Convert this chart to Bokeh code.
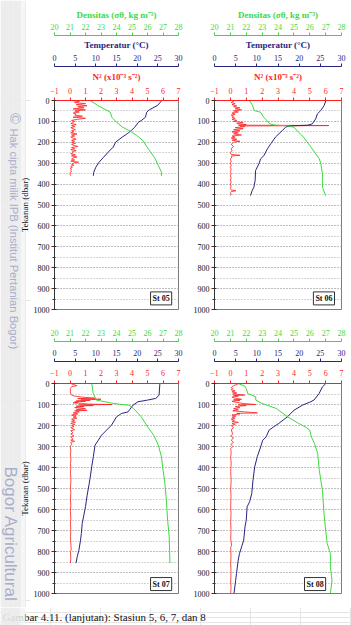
import math

from bokeh.embed import file_html
from bokeh.layouts import column, row
from bokeh.models import (BoxAnnotation, Label, LinearAxis, Range1d,
                          SingleIntervalTicker, Title)
from bokeh.plotting import figure
from bokeh.resources import INLINE

# ---------------------------------------------------------------------------
# CTD profiles, as (pressure dbar, value) pairs
# temperature in degC, sigma-theta in kg m-3, N^2 in 1e-3 s-2
# ---------------------------------------------------------------------------
ST05_TEMP = [(0, 26.0), (24, 24.9), (45, 22.9), (56, 22.3), (80, 22.0), (96, 21.0),
             (104, 20.3), (128, 19.4), (143, 18.6), (159, 17.6), (175, 16.4),
             (199, 14.8), (223, 14.2), (247, 13.0), (271, 11.9), (295, 10.8),
             (319, 10.0), (343, 9.5), (360, 9.4)]
ST05_DENS = [(0, 22.3), (24, 22.8), (56, 23.6), (80, 23.7), (104, 24.0), (128, 24.4),
             (143, 24.8), (167, 25.3), (191, 25.7), (215, 25.9), (247, 26.2),
             (279, 26.5), (311, 26.7), (343, 26.9), (360, 26.9)]
ST05_N2 = [(0, 0.1), (5, 0.6), (10, 0.3), (15, 1.0), (20, 0.4), (25, 1.1), (30, 0.5),
           (35, 0.9), (40, 0.2), (45, 1.0), (50, 0.3), (55, 0.6), (60, 0.2), (65, 0.4),
           (70, 0.3), (75, 0.8), (80, 0.2), (85, 1.0), (90, 0.5), (95, 0.1), (100, 0.3),
           (105, 0.2), (110, 0.05), (115, 0.4), (120, 0.1), (125, 0.3), (130, 0.05),
           (135, 0.2), (140, 0.35), (145, 0.1), (150, 0.25), (155, 0.05), (160, 0.45),
           (165, 0.1), (170, 0.3), (175, 0.05), (180, 0.2), (185, 0.4), (190, 0.1),
           (195, 0.3), (200, 0.1), (205, 0.35), (210, 0.1), (215, 0.25), (220, 0.5),
           (225, 0.1), (230, 0.3), (235, 0.05), (240, 0.4), (245, 0.15), (250, 0.2),
           (255, 0.05), (260, 0.35), (265, 0.1), (270, 0.45), (275, 0.2), (280, 0.1),
           (285, 0.3), (290, 0.05), (295, 0.55), (300, 0.2), (305, 0.1), (310, 0.25),
           (315, 0.05), (320, 0.15), (325, 0.0), (330, 0.1), (335, 0.05), (340, 0.1),
           (345, 0.0), (350, 0.05), (355, 0.0), (360, 0.05)]

ST06_TEMP = [(0, 26.3), (24, 25.9), (48, 25.1), (64, 24.3), (88, 23.9), (112, 23.1),
             (118, 22.0), (121, 18.5), (124, 17.3), (128, 16.8), (144, 16.0),
             (175, 14.4), (207, 13.3), (231, 12.5), (263, 11.7), (279, 10.9),
             (303, 10.5), (335, 9.7), (383, 9.6), (415, 9.3), (431, 8.9), (455, 8.5)]
ST06_DENS = [(0, 22.2), (24, 22.4), (48, 22.5), (56, 22.9), (80, 23.1), (112, 23.5),
             (118, 23.8), (121, 24.6), (128, 25.0), (152, 25.3), (175, 25.6),
             (215, 26.0), (247, 26.3), (279, 26.6), (303, 26.7), (351, 26.8),
             (383, 26.8), (415, 26.8), (455, 27.0)]
ST06_N2 = [(0, 0.1), (5, 0.2), (10, 0.05), (15, 0.3), (20, 0.1), (25, 0.4), (30, 0.2),
           (35, 0.6), (40, 0.3), (45, 0.7), (50, 0.2), (55, 0.5), (60, 0.1), (65, 0.3),
           (70, 0.05), (75, 0.2), (80, 0.1), (85, 0.3), (90, 0.1), (95, 0.4), (100, 0.2),
           (105, 0.8), (110, 0.4), (115, 1.0), (118, 0.5), (120, 6.2), (122, 0.6),
           (125, 0.9), (130, 0.3), (135, 0.8), (140, 0.2), (145, 0.6), (150, 0.1),
           (155, 0.5), (160, 0.2), (165, 0.7), (170, 0.1), (175, 0.3), (180, 0.05),
           (185, 0.4), (190, 0.1), (195, 0.6), (200, 0.2), (210, 0.05), (220, 0.2),
           (230, 0.05), (240, 0.1), (250, 0.0), (258, 0.05), (262, 0.6), (266, 0.05),
           (270, 0.1), (280, 0.0), (290, 0.05), (300, 0.0), (310, 0.05), (320, 0.0),
           (330, 0.05), (340, 0.0), (350, 0.05), (360, 0.0), (370, 0.05), (380, 0.0),
           (390, 0.05), (400, 0.0), (410, 0.05), (420, 0.0), (428, 0.05), (432, 0.35),
           (436, 0.05), (440, 0.0), (450, 0.05), (455, 0.0)]

ST07_TEMP = [(0, 25.5), (56, 25.3), (71, 24.5), (79, 22.5), (87, 20.2), (103, 19.0),
             (135, 17.8), (143, 16.2), (159, 15.0), (198, 13.8), (222, 12.6),
             (246, 11.4), (270, 10.6), (294, 9.8), (349, 9.4), (397, 9.0), (452, 8.6),
             (476, 8.4), (532, 7.9), (587, 7.5), (627, 7.1), (667, 6.7), (714, 6.5),
             (746, 6.3), (794, 5.9), (825, 5.5), (855, 5.2)]
ST07_DENS = [(0, 22.4), (48, 22.5), (79, 22.7), (92, 23.6), (98, 24.1), (103, 24.8),
             (119, 25.1), (159, 25.6), (206, 26.0), (246, 26.4), (294, 26.7),
             (349, 26.9), (413, 27.0), (460, 27.1), (540, 27.2), (651, 27.3),
             (730, 27.4), (855, 27.45)]
ST07_N2 = [(0, 0.05), (5, 0.2), (10, 0.45), (15, 0.1), (20, 0.05), (25, 0.02), (30, 0.03),
           (40, 0.02), (50, 0.05), (55, 0.1), (60, 0.3), (65, 0.8), (70, 1.6), (72, 0.5),
           (75, 2.0), (78, 0.7), (80, 1.3), (83, 0.4), (85, 1.0), (88, 0.3), (90, 0.5),
           (92, 0.2), (95, 0.8), (98, 1.2), (100, 2.7), (102, 0.6), (105, 1.5), (108, 0.4),
           (110, 0.9), (115, 0.3), (120, 1.0), (125, 0.4), (128, 1.1), (130, 0.3),
           (135, 0.6), (140, 0.2), (145, 0.5), (150, 0.1), (155, 0.4), (160, 0.2),
           (165, 0.45), (170, 0.1), (175, 0.3), (180, 0.1), (185, 0.35), (190, 0.05),
           (195, 0.3), (200, 0.1), (205, 0.25), (210, 0.05), (220, 0.3), (225, 0.05),
           (235, 0.2), (240, 0.05), (250, 0.25), (255, 0.05), (265, 0.2), (270, 0.05),
           (275, 0.3), (280, 0.05), (290, 0.1), (300, 0.02), (320, 0.05), (340, 0.03),
           (360, 0.06), (380, 0.03), (400, 0.05), (430, 0.03), (460, 0.06), (490, 0.03),
           (520, 0.05), (550, 0.03), (580, 0.05), (610, 0.03), (640, 0.05), (670, 0.03),
           (700, 0.05), (730, 0.03), (760, 0.05), (790, 0.08), (800, 0.03), (830, 0.05),
           (855, 0.03)]

ST08_TEMP = [(0, 26.3), (16, 25.5), (48, 24.7), (79, 23.5), (87, 22.7), (103, 20.8),
             (127, 18.8), (159, 17.2), (190, 15.2), (206, 14.0), (222, 12.9),
             (254, 12.2), (270, 11.4), (302, 10.9), (349, 10.1), (397, 9.5), (460, 9.1),
             (524, 8.8), (563, 8.3), (587, 7.7), (651, 7.5), (683, 7.2), (746, 6.9),
             (778, 6.4), (810, 5.9), (841, 5.6), (905, 5.2), (937, 5.0), (1000, 4.6)]
ST08_DENS = [(0, 21.5), (12, 21.9), (24, 22.0), (48, 22.1), (63, 22.6), (79, 22.6),
             (95, 23.0), (119, 23.9), (159, 24.6), (190, 25.3), (206, 25.7),
             (222, 26.0), (254, 26.1), (286, 26.3), (333, 26.5), (413, 26.6),
             (508, 26.8), (619, 26.9), (698, 27.0), (762, 27.1), (810, 27.3),
             (873, 27.3), (937, 27.4), (1000, 27.3)]
ST08_N2 = [(0, 0.55), (3, 0.45), (6, 0.35), (10, 0.2), (15, 0.1), (20, 0.05), (25, 0.15),
           (30, 0.05), (35, 0.3), (40, 0.1), (45, 0.4), (50, 0.15), (55, 0.9), (58, 0.2),
           (60, 0.5), (65, 0.1), (70, 0.3), (75, 0.7), (78, 0.2), (80, 0.6), (85, 0.1),
           (90, 0.4), (95, 0.8), (100, 1.6), (102, 0.5), (105, 1.0), (110, 0.3),
           (115, 0.6), (120, 0.2), (125, 0.5), (130, 0.15), (135, 0.9), (140, 1.7),
           (142, 0.4), (145, 0.6), (150, 0.1), (155, 0.35), (160, 0.1), (165, 0.3),
           (170, 0.05), (175, 0.25), (180, 0.1), (185, 0.5), (190, 0.1), (195, 0.3),
           (200, 0.05), (210, 0.2), (220, 0.05), (240, 0.15), (250, 0.02), (260, 0.2),
           (270, 0.05), (280, 0.2), (290, 0.03), (300, 0.15), (310, 0.02), (330, 0.05),
           (350, 0.02), (380, 0.05), (420, 0.02), (460, 0.05), (500, 0.02), (540, 0.04),
           (580, 0.02), (620, 0.04), (660, 0.02), (700, 0.04), (740, 0.02), (770, 0.08),
           (780, 0.02), (820, 0.04), (860, 0.02), (900, 0.04), (940, 0.02), (970, 0.04),
           (1000, 0.02)]

STATIONS = ["St 05", "St 06", "St 07", "St 08"]
PROFILES = {
    "St 05": (ST05_TEMP, ST05_DENS, ST05_N2),
    "St 06": (ST06_TEMP, ST06_DENS, ST06_N2),
    "St 07": (ST07_TEMP, ST07_DENS, ST07_N2),
    "St 08": (ST08_TEMP, ST08_DENS, ST08_N2),
}

# axis titles, caption and the repository mark
DENS_TITLE = "Densitas (σθ, kg m⁻³)"
TEMP_TITLE = "Temperatur (°C)"
N2_TITLE = "N² (x10⁻³ s⁻²)"
P_TITLE = "Tekanan (dbar)"
CAPTION = "Gambar 4.11. (lanjutan): Stasiun 5, 6, 7, dan 8"
MARK_TOP = "Hak cipta milik IPB (Institut Pertanian Bogor)"
MARK_BOTTOM = "Bogor Agricultural"

# ---------------------------------------------------------------------------
# styling
# ---------------------------------------------------------------------------
SERIF = "Liberation Serif"
SANS = "Liberation Sans"
RED = "#ff1e1e"
NAVY = "#26267f"
GREEN = "#3ed93e"
GRID = "#a8a8a8"
MARK = "#a9adca"
STRIP = "#ebebeb"
STRIP_EDGE = "#f4f4f4"

# page geometry (pixels)
SIDE_W = 30          # left margin column holding the strip and pressure titles
TOP_H, BOT_H, CAP_H = 314, 293, 18
FRAME_TOP = {True: 100, False: 69}
FRAME_H = {True: 209, False: 210}

# station label box anchor (N^2 units, dbar) for each panel
LABEL_AT = {"St 05": (6.56, 978), "St 06": (6.56, 978),
            "St 07": (6.56, 986), "St 08": (6.0, 986)}


def unzip(pairs):
    return [a for a, _ in pairs], [b for _, b in pairs]


def top_axis(p, range_name, interval, color, standoff):
    ax = LinearAxis(x_range_name=range_name,
                    ticker=SingleIntervalTicker(interval=interval))
    ax.axis_line_color = color
    ax.major_tick_line_color = color
    ax.minor_tick_line_color = None
    ax.major_tick_out = 3
    ax.major_tick_in = 0
    ax.major_label_text_color = color
    ax.major_label_text_font = SERIF
    ax.major_label_text_font_size = "8px"
    ax.major_label_standoff = standoff
    p.add_layout(ax, "above")


def header(p, text, color, standoff, size="9px"):
    p.add_layout(Title(text=text, align="center", text_color=color,
                       text_font=SERIF, text_font_size=size,
                       text_font_style="bold", standoff=standoff), "above")


def panel(name, top_row, left_col):
    temp, dens, n2 = PROFILES[name]
    height = TOP_H if top_row else BOT_H
    p = figure(width=190 - SIDE_W if left_col else 161, height=height,
               x_range=Range1d(-1, 7), y_range=Range1d(1000, 0),
               x_axis_location=None, y_axis_location="left", title=None,
               toolbar_location=None, output_backend="svg",
               min_border_left=52 - SIDE_W if left_col else 24,
               min_border_right=12 if left_col else 10,
               min_border_top=FRAME_TOP[top_row],
               min_border_bottom=height - FRAME_TOP[top_row] - FRAME_H[top_row])
    p.extra_x_ranges = {"temp": Range1d(0, 30), "dens": Range1d(20, 28)}
    p.background_fill_color = "white"
    p.outline_line_color = "#7c7c7c"

    # three stacked scales above the frame (inner to outer)
    if top_row:
        top_axis(p, "default", 1, RED, 3)
        header(p, N2_TITLE, RED, 6)
        top_axis(p, "temp", 5, NAVY, 2)
        header(p, TEMP_TITLE, NAVY, 4)
        top_axis(p, "dens", 1, GREEN, 2)
        header(p, DENS_TITLE, GREEN, 1)
    else:
        top_axis(p, "default", 1, RED, 4)
        header(p, " ", RED, 1, size="2px")
        top_axis(p, "temp", 5, NAVY, 2)
        header(p, " ", NAVY, 1, size="2px")
        top_axis(p, "dens", 1, GREEN, 2)

    ya = p.yaxis[0]
    ya.ticker = SingleIntervalTicker(interval=100, num_minor_ticks=2)
    ya.axis_line_color = "#333333"
    ya.major_tick_line_color = "#333333"
    ya.minor_tick_line_color = "#333333"
    ya.major_tick_out = 3
    ya.major_tick_in = 2
    ya.minor_tick_out = 2
    ya.minor_tick_in = 1
    ya.major_label_standoff = 2
    ya.major_label_text_font = SERIF
    ya.major_label_text_font_size = "8px"
    ya.major_label_text_color = "#111111"

    p.ygrid.grid_line_color = GRID
    p.ygrid.grid_line_dash = "1 2"
    p.ygrid.minor_grid_line_color = GRID
    p.ygrid.minor_grid_line_dash = "1 2"
    p.xgrid.visible = False

    pn, vn = unzip(n2)
    pt, vt = unzip(temp)
    pd_, vd = unzip(dens)
    p.line(vn, pn, color=RED, line_width=0.8)
    p.line(vt, pt, x_range_name="temp", color=NAVY, line_width=1)
    p.line(vd, pd_, x_range_name="dens", color=GREEN, line_width=1)

    lx, ly = LABEL_AT[name]
    p.add_layout(Label(x=lx, y=ly, text=name, text_align="right",
                       text_baseline="bottom", text_font=SERIF,
                       text_font_size="8px", text_font_style="bold",
                       text_color="#111111", border_line_color="#333333",
                       background_fill_color="white", padding=2))
    return p


def page_strip(width, height):
    """A plain pixel-space canvas used for the margin column and caption."""
    p = figure(width=width, height=height, x_range=Range1d(0, width),
               y_range=Range1d(height, 0), x_axis_location=None,
               y_axis_location=None, title=None, toolbar_location=None,
               output_backend="svg", min_border=0)
    p.outline_line_color = None
    p.background_fill_color = "white"
    return p


def gray_band(p, height):
    p.add_layout(BoxAnnotation(left=0, right=20, top=0, bottom=height,
                               fill_color=STRIP, fill_alpha=0.9, line_color=None))
    p.add_layout(BoxAnnotation(left=20, right=25, top=0, bottom=height,
                               fill_color=STRIP_EDGE, fill_alpha=0.8, line_color=None))


def mark(p, px, py, text, size, align="left", baseline="alphabetic"):
    p.add_layout(Label(x=px, y=py, text=text, angle=-math.pi / 2, text_font=SANS,
                       text_font_size=size, text_align=align, text_baseline=baseline,
                       text_color=MARK))


f1 = panel("St 05", True, True)
f2 = panel("St 06", True, False)
f3 = panel("St 07", False, True)
f4 = panel("St 08", False, False)

# left margin: gray strip, repository mark and the pressure-axis titles
side = page_strip(SIDE_W, TOP_H + BOT_H)
gray_band(side, TOP_H + BOT_H)
mark(side, 15, 118, "©", "15px", align="center", baseline="middle")
mark(side, 13, 128, MARK_TOP, "11.2px")
mark(side, 10, 466, MARK_BOTTOM, "17px")
for top_row, y_off in ((True, 0), (False, TOP_H)):
    side.add_layout(Label(x=24, y=y_off + FRAME_TOP[top_row] + FRAME_H[top_row] / 2,
                          text=P_TITLE, angle=math.pi / 2, text_font=SERIF,
                          text_font_size="9px", text_align="center",
                          text_baseline="middle", text_color="#111111"))

# caption along the bottom of the page
cap = page_strip(351, CAP_H)
cap.add_layout(Label(x=2, y=9, text=CAPTION, text_font=SERIF, text_font_size="11px",
                     text_baseline="middle", text_align="left", text_color="#111111"))
gray_band(cap, CAP_H)

page = column(row(side, column(row(f1, f2), row(f3, f4))), cap)

open("out.html", "w").write(file_html(page, INLINE))
